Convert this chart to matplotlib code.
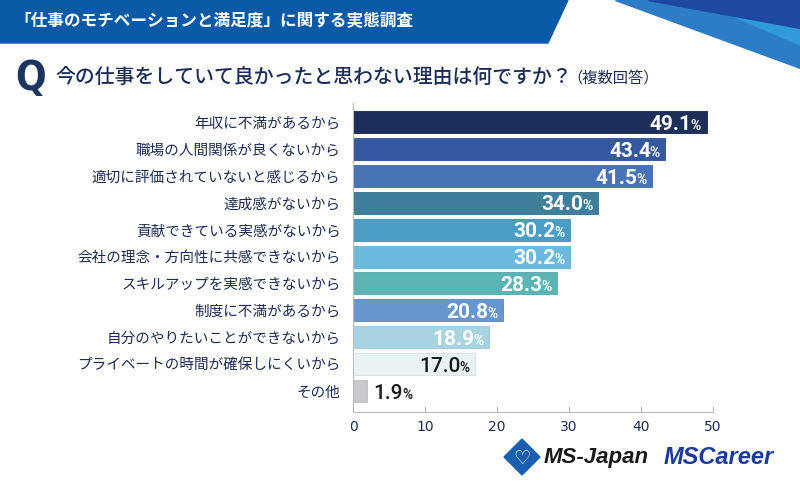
import matplotlib.pyplot as plt
from matplotlib.patches import Polygon

# Data
categories = ['年収に不満があるから', '職場の人間関係が良くないから', '適切に評価されていないと感じるから',
              '達成感がないから', '貢献できている実感がないから', '会社の理念・方向性に共感できないから',
              'スキルアップを実感できないから', '制度に不満があるから', '自分のやりたいことができないから',
              'プライベートの時間が確保しにくいから', 'その他']
values = [49.1, 43.4, 41.5, 34.0, 30.2, 30.2, 28.3, 20.8, 18.9, 17.0, 1.9]
colors = ['#1e2f5c', '#3459a1', '#4674b6', '#3e7f9c', '#4b9dc5', '#6bb9de',
          '#5cb3b3', '#6795cf', '#a8d4e1', '#e9f2f3', '#c9c9cd']
label_colors = ['white'] * 9 + ['#1a1a1a', '#1a1a1a']
xticks = [0, 10, 20, 30, 40, 50]

title = '「仕事のモチベーションと満足度」に関する実態調査'
question = '今の仕事をしていて良かったと思わない理由は何ですか？'

jp = ['Noto Sans CJK JP', 'DejaVu Sans']
navy = '#1c2c58'

fig = plt.figure(figsize=(8, 4.95), dpi=100)

# header band and decorations (figure pixel coords)
def px(x, y):
    return (x / 800, 1 - y / 495)

fig.patches.append(Polygon([px(0, 0), px(568, 0), px(548, 43), px(0, 43)],
                           closed=True, transform=fig.transFigure, color='#0b5aa8', zorder=0))
fig.patches.append(Polygon([px(615, 0), px(800, 0), px(800, 68)],
                           closed=True, transform=fig.transFigure, color='#2c7cc6', zorder=0))
fig.patches.append(Polygon([px(735, 17), px(800, 27), px(800, 45)],
                           closed=True, transform=fig.transFigure, color='#2f9ad8', zorder=1))
fig.patches.append(Polygon([px(648, 0), px(800, 0), px(800, 28)],
                           closed=True, transform=fig.transFigure, color='#1f48a3', zorder=1))

fig.text(14 / 800, 1 - 21 / 495, title, family=jp, fontsize=12, weight='bold',
         color='white', va='center', ha='left')

# question line
fig.text(15 / 800, 1 - 79 / 495, 'Q', family='DejaVu Sans', fontstretch='condensed',
         fontsize=29, weight='bold', color='#1c3560', va='center', ha='left')
fig.text(55 / 800, 1 - 77 / 495, question, family=jp, fontsize=14.3, weight='medium',
         color=navy, va='center', ha='left')
fig.text(567 / 800, 1 - 78 / 495, '（複数回答）', family=jp, fontsize=11,
         color=navy, va='center', ha='left')

# chart
ax = fig.add_axes([353 / 800, 1 - 412 / 495, 360 / 800, 309 / 495])
y = list(range(len(categories)))
edge = ['#16244a', '#2a4c8e', '#3b66a6', '#33708c', '#4090b8', '#5eaed4',
        '#52a6a6', '#5a88c2', '#97c6d4', '#d5e3e6', '#bdbdc2']
ax.barh(y, values, height=0.82, color=colors, edgecolor=edge, linewidth=0.6, zorder=2)
ax.set_ylim(10.78, -0.71)
ax.set_xlim(0, 50)
ax.set_yticks(y)
ax.set_yticklabels(categories, family=jp, fontsize=10.5, color=navy)
ax.set_xticks(xticks)
ax.set_xticklabels([str(t) for t in xticks], family='DejaVu Sans', fontsize=10, color=navy)
ax.tick_params(axis='y', length=0, pad=9)
ax.tick_params(axis='x', direction='in', length=4, color='#bbbbbb', pad=6)
for s in ['top', 'right']:
    ax.spines[s].set_visible(False)
ax.spines['left'].set_color('#bbbbbb')
ax.spines['bottom'].set_color('#bbbbbb')

for i, v in enumerate(values):
    c = label_colors[i]
    wt = 'bold' if c == 'white' else 'medium'
    if v < 5:
        ax.annotate(f'{v:.1f}', xy=(v, i), xytext=(5, -5.5), textcoords='offset points',
                    ha='left', va='baseline', fontsize=15, family='Roboto', weight=wt, color=c)
        ax.annotate('%', xy=(v, i), xytext=(26, -5.5), textcoords='offset points',
                    ha='left', va='baseline', fontsize=10, family='Roboto', weight=wt, color=c)
    else:
        ax.annotate('%', xy=(v, i), xytext=(-4, -5.5), textcoords='offset points',
                    ha='right', va='baseline', fontsize=10, family='Roboto', weight=wt, color=c)
        ax.annotate(f'{v:.1f}', xy=(v, i), xytext=(-10.5, -5.5), textcoords='offset points',
                    ha='right', va='baseline', fontsize=15, family='Roboto', weight=wt, color=c)

# logos
fig.patches.append(Polygon([px(522, 439), px(540, 457), px(522, 475), px(504, 457)],
                           closed=True, transform=fig.transFigure, color='#1b5fb0', zorder=2))
fig.text(522 / 800, 1 - 458 / 495, '♡', family='DejaVu Sans', fontsize=14, color='white',
         ha='center', va='center', weight='bold')
fig.text(544 / 800, 1 - 458 / 495, 'MS-Japan', family='Liberation Sans', fontsize=16,
         weight='bold', style='italic', color='#1a1a1a', ha='left', va='center')
fig.text(664 / 800, 1 - 458 / 495, 'MSCareer', family='Liberation Sans', fontsize=17,
         weight='bold', style='italic', color='#1a3a9c', ha='left', va='center')

fig.savefig('out.png', dpi=100)
